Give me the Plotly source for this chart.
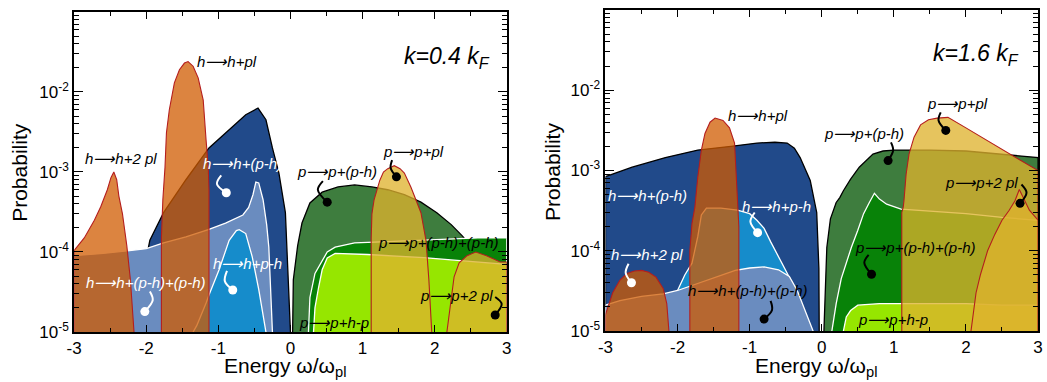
import math
import plotly.graph_objects as go

# ---------------- k = 0.4 kF (left panel) ----------------
# hole decay channels
a_hph_E = [-2.05, -1.95, -1.76, -1.45, -1.13, -0.8, -0.62, -0.45, -0.34, -0.25, -0.16, -0.07, -0.03, 0.0]
a_hph_P = [5e-5, 1.4e-4, 3.1e-4, 8e-4, 2.0e-3, 3.7e-3, 5.2e-3, 6.3e-3, 4.5e-3, 2.0e-3, 9.7e-4, 3.1e-4, 4.5e-5, 1e-5]

a_hphph_E = [-3.0, -2.6, -2.2, -2.0, -1.76, -1.45, -1.14, -0.9, -0.66, -0.58, -0.52, -0.48, -0.44, -0.38, -0.33, -0.3, -0.25]
a_hphph_P = [9e-5, 9.6e-5, 1.05e-4, 1.1e-4, 1.3e-4, 1.55e-4, 1.9e-4, 2.3e-4, 2.9e-4, 3.6e-4, 5.2e-4, 7.5e-4, 7.3e-4, 4.5e-4, 2.2e-4, 1.15e-4, 1e-5]

a_hpmh_E = [-1.35, -1.3, -1.17, -1.13, -0.99, -0.85, -0.75, -0.71, -0.62, -0.53, -0.44, -0.34]
a_hpmh_P = [1e-5, 1.2e-5, 2.3e-5, 2.9e-5, 6e-5, 1.4e-4, 1.85e-4, 1.9e-4, 1.7e-4, 8.7e-5, 3.4e-5, 1e-5]

a_h2pl_E = [-3.0, -2.86, -2.72, -2.63, -2.54, -2.49, -2.45, -2.41, -2.38, -2.33, -2.27, -2.22, -2.17]
a_h2pl_P = [1.05e-4, 1.5e-4, 2.5e-4, 3.7e-4, 6e-4, 8.5e-4, 1e-3, 8e-4, 5e-4, 3e-4, 1.2e-4, 4.5e-5, 1e-5]

a_hpl_E = [-1.79, -1.77, -1.74, -1.72, -1.68, -1.61, -1.54, -1.47, -1.42, -1.35, -1.28, -1.21, -1.17, -1.14, -1.13]
a_hpl_P = [1.5e-4, 4.5e-4, 1.15e-3, 3.1e-3, 6e-3, 1.3e-2, 1.9e-2, 2.3e-2, 2.4e-2, 2.1e-2, 1.5e-2, 7.9e-3, 2.5e-3, 1.15e-3, 6e-4]

# particle decay channels
a_pph_E = [0.03, 0.04, 0.1, 0.16, 0.27, 0.44, 0.66, 0.89, 1.13, 1.35, 1.58, 1.81, 2.03, 2.23, 2.38, 2.5, 2.6]
a_pph_P = [1e-5, 4.5e-5, 1.2e-4, 2.3e-4, 4.1e-4, 5.6e-4, 6.5e-4, 6.9e-4, 6.5e-4, 6e-4, 5.2e-4, 4.2e-4, 3.1e-4, 2.2e-4, 1.6e-4, 1.2e-4, 8e-5]

a_pphph_E = [0.25, 0.27, 0.34, 0.44, 0.51, 0.62, 0.89, 1.35, 1.81, 2.27, 2.6, 3.0]
a_pphph_P = [1e-5, 2.7e-5, 5.4e-5, 7.9e-5, 1e-4, 1.15e-4, 1.3e-4, 1.35e-4, 1.4e-4, 1.45e-4, 1.5e-4, 1.5e-4]

a_phmp_E = [0.32, 0.34, 0.39, 0.44, 0.51, 0.62, 1.07, 1.85, 2.27, 2.6, 3.0]
a_phmp_P = [1e-5, 2e-5, 3.6e-5, 6e-5, 8.4e-5, 9.6e-5, 9.3e-5, 8.5e-5, 7.9e-5, 7.5e-5, 7e-5]

a_ppl_E = [1.12, 1.13, 1.16, 1.2, 1.24, 1.29, 1.35, 1.44, 1.52, 1.58, 1.67, 1.74, 1.81, 1.88, 1.92, 1.96]
a_ppl_P = [1.5e-4, 3e-4, 4.5e-4, 6e-4, 7.9e-4, 1e-3, 1.1e-3, 1.2e-3, 1.1e-3, 9.7e-4, 6.5e-4, 4.5e-4, 3.1e-4, 1.4e-4, 4.5e-5, 1e-5]

a_p2pl_E = [2.17, 2.22, 2.27, 2.34, 2.45, 2.57, 2.72, 2.91, 3.0]
a_p2pl_P = [1e-5, 2.3e-5, 4.9e-5, 7.3e-5, 9e-5, 1e-4, 9e-5, 7.5e-5, 7.5e-5]

# ---------------- k = 1.6 kF (right panel) ----------------
b_hph_E = [-3.0, -2.63, -2.17, -1.72, -1.26, -0.9, -0.65, -0.48, -0.38, -0.3, -0.16, -0.07, -0.04, -0.03]
b_hph_P = [8.4e-4, 1.1e-3, 1.45e-3, 1.8e-3, 2.0e-3, 2.2e-3, 2.25e-3, 2.2e-3, 1.9e-3, 1.45e-3, 7.5e-4, 3e-4, 6e-5, 1e-5]

b_hpmh_E = [-2.1, -2.0, -1.9, -1.8, -1.72, -1.67, -1.6, -1.4, -1.17, -1.0, -0.9, -0.8, -0.71, -0.6, -0.52, -0.44, -0.35]
b_hpmh_P = [1.5e-5, 3.2e-5, 5e-5, 7e-5, 1.5e-4, 2.8e-4, 3.4e-4, 3.4e-4, 3.2e-4, 2.9e-4, 2.4e-4, 1.9e-4, 1.3e-4, 8.5e-5, 6.2e-5, 4.5e-5, 2e-5]

b_hphph_E = [-3.0, -2.8, -2.5, -2.2, -2.0, -1.8, -1.6, -1.4, -1.2, -1.0, -0.8, -0.6, -0.45, -0.34, -0.25, -0.16, -0.12]
b_hphph_P = [2.1e-5, 2.4e-5, 2.7e-5, 2.9e-5, 3.2e-5, 3.7e-5, 4.3e-5, 5e-5, 5.7e-5, 6.1e-5, 6.3e-5, 5.8e-5, 4.8e-5, 3.2e-5, 2e-5, 1.2e-5, 1e-5]

b_h2pl_E = [-3.0, -2.9, -2.8, -2.7, -2.6, -2.5, -2.4, -2.3, -2.2, -2.15, -2.12]
b_h2pl_P = [1.6e-5, 3e-5, 4.3e-5, 5.2e-5, 5.6e-5, 5.7e-5, 5.4e-5, 4.7e-5, 3.4e-5, 2.2e-5, 1e-5]

b_hpl_E = [-1.83, -1.8, -1.76, -1.72, -1.67, -1.62, -1.55, -1.48, -1.37, -1.28, -1.21, -1.19, -1.17, -1.15]
b_hpl_P = [1e-4, 2.2e-4, 3.5e-4, 8.2e-4, 1.8e-3, 2.9e-3, 4e-3, 4.5e-3, 4.2e-3, 3.4e-3, 2.2e-3, 1.1e-3, 4.2e-4, 2e-4]

b_pph_E = [0.03, 0.05, 0.07, 0.12, 0.2, 0.25, 0.3, 0.4, 0.52, 0.71, 0.85, 1.0, 1.5, 2.0, 2.5, 3.0]
b_pph_P = [1e-5, 4e-5, 1.1e-4, 2.5e-4, 4e-4, 4.6e-4, 5.6e-4, 7.8e-4, 1.1e-3, 1.6e-3, 1.75e-3, 1.8e-3, 1.8e-3, 1.75e-3, 1.6e-3, 1.45e-3]

b_pphph_E = [0.14, 0.2, 0.27, 0.34, 0.41, 0.5, 0.58, 0.66, 0.73, 0.8, 0.9, 1.1, 1.5, 2.0, 2.5, 3.0]
b_pphph_P = [1e-5, 2.2e-5, 4.5e-5, 7e-5, 1.1e-4, 1.8e-4, 2.9e-4, 4e-4, 5.2e-4, 4.4e-4, 3.8e-4, 3.3e-4, 3.1e-4, 2.9e-4, 2.6e-4, 2.4e-4]

b_phmp_E = [0.3, 0.34, 0.4, 0.5, 0.8, 1.1, 1.5, 2.0, 2.5, 3.0]
b_phmp_P = [1e-5, 1.5e-5, 1.8e-5, 2.1e-5, 2.2e-5, 2.2e-5, 2.2e-5, 2.2e-5, 2.1e-5, 2.1e-5]

b_ppl_E = [1.11, 1.13, 1.14, 1.17, 1.21, 1.28, 1.37, 1.48, 1.6, 1.75, 2.0, 2.25, 2.5, 2.75, 3.0]
b_ppl_P = [3e-4, 3.5e-4, 4.2e-4, 9e-4, 1.6e-3, 2.6e-3, 3.7e-3, 4.3e-3, 4.5e-3, 4.6e-3, 3.4e-3, 2.5e-3, 1.8e-3, 1.35e-3, 1.0e-3]

b_p2pl_E = [2.07, 2.1, 2.14, 2.2, 2.3, 2.4, 2.5, 2.6, 2.68, 2.74, 2.8, 2.88, 3.0]
b_p2pl_P = [1e-5, 1.6e-5, 3e-5, 5e-5, 1e-4, 1.6e-4, 2.4e-4, 3.2e-4, 4.2e-4, 5.8e-4, 4.4e-4, 3.2e-4, 2.4e-4]

# axis ticks
x_ticks = [-3, -2, -1, 0, 1, 2, 3]
x_ticklabels = ["-3", "-2", "-1", "0", "1", "2", "3"]
y_ticks = [1e-5, 1e-4, 1e-3, 1e-2, 1e-1]
y_ticklabels = ["10<sup>-5</sup>", "10<sup>-4</sup>", "10<sup>-3</sup>", "10<sup>-2</sup>", "10<sup>-1</sup>"]

# ---------------- styling ----------------
FLOOR = 1e-6          # areas are closed below the visible range
DARK_BLUE = "#214a8a"
STEEL = "#6a8cbf"
MID_BLUE = "#168ccb"
DARK_GREEN = "#3e7d3e"
GREEN = "#088208"
LIME = "#96e600"
ORANGE = "rgba(208,91,0,0.75)"
YELLOW = "rgba(222,178,46,0.77)"
RED = "#b41e1e"
FONT = "Liberation Sans, Arial, sans-serif"
ARROW = "⟶"

fig = go.Figure()


def area(E, P, fill, line, width, ax):
    xs = list(E) + [E[-1], E[0], E[0]]
    ys = list(P) + [FLOOR, FLOOR, P[0]]
    fig.add_trace(go.Scatter(
        x=xs, y=ys, mode="lines", fill="toself", fillcolor=fill,
        line=dict(color=line, width=width), xaxis="x" + ax, yaxis="y" + ax,
        hoverinfo="skip", showlegend=False))


# left panel, back to front
area(a_hph_E, a_hph_P, DARK_BLUE, "black", 1.3, "")
area(a_hphph_E, a_hphph_P, STEEL, "white", 1.3, "")
area(a_hpmh_E, a_hpmh_P, MID_BLUE, "white", 1.3, "")
area(a_pph_E, a_pph_P, DARK_GREEN, "black", 1.3, "")
area(a_pphph_E, a_pphph_P, GREEN, "white", 1.3, "")
area(a_phmp_E, a_phmp_P, LIME, "white", 1.3, "")
area(a_h2pl_E, a_h2pl_P, ORANGE, RED, 1.1, "")
area(a_hpl_E, a_hpl_P, ORANGE, RED, 1.1, "")
area(a_ppl_E, a_ppl_P, YELLOW, RED, 1.1, "")
area(a_p2pl_E, a_p2pl_P, YELLOW, RED, 1.1, "")

# right panel, back to front
area(b_hph_E, b_hph_P, DARK_BLUE, "black", 1.3, "2")
area(b_hpmh_E, b_hpmh_P, MID_BLUE, "white", 1.3, "2")
area(b_hphph_E, b_hphph_P, STEEL, "white", 1.3, "2")
area(b_pph_E, b_pph_P, DARK_GREEN, "black", 1.3, "2")
area(b_pphph_E, b_pphph_P, GREEN, "white", 1.3, "2")
area(b_phmp_E, b_phmp_P, LIME, "white", 1.3, "2")
area(b_h2pl_E, b_h2pl_P, ORANGE, RED, 1.1, "2")
area(b_hpl_E, b_hpl_P, ORANGE, RED, 1.1, "2")
area(b_ppl_E, b_ppl_P, YELLOW, RED, 1.1, "2")
area(b_p2pl_E, b_p2pl_P, YELLOW, RED, 1.1, "2")

# channel labels: (axis, text, energy, probability, colour)
labels = [
    ("", "h→h+pl", -0.88, 2.4e-2, "black"),
    ("", "h→h+2 pl", -2.35, 1.48e-3, "black"),
    ("", "h→h+(p-h)", -0.66, 1.29e-3, "white"),
    ("", "h→h+p-h", -0.6, 7.2e-5, "white"),
    ("", "h→h+(p-h)+(p-h)", -2.0, 4.1e-5, "white"),
    ("", "p→p+(p-h)", 0.65, 1.0e-3, "black"),
    ("", "p→p+pl", 1.70, 1.78e-3, "black"),
    ("", "p→p+(p-h)+(p-h)", 2.05, 1.33e-4, "black"),
    ("", "p→p+2 pl", 2.3, 2.9e-5, "black"),
    ("", "p→p+h-p", 0.6, 1.33e-5, "black"),
    ("2", "h→h+pl", -0.88, 4.9e-3, "black"),
    ("2", "h→h+(p-h)", -2.42, 4.9e-4, "white"),
    ("2", "h→h+p-h", -0.63, 3.6e-4, "white"),
    ("2", "h→h+2 pl", -2.42, 9.1e-5, "white"),
    ("2", "h→h+(p-h)+(p-h)", -1.03, 3.16e-5, "black"),
    ("2", "p→p+(p-h)", 0.58, 2.9e-3, "black"),
    ("2", "p→p+pl", 1.88, 6.9e-3, "black"),
    ("2", "p→p+2 pl", 2.21, 7.1e-4, "black"),
    ("2", "p→p+(p-h)+(p-h)", 1.3, 1.1e-4, "black"),
    ("2", "p→p+h-p", 0.99, 1.41e-5, "black"),
]

# curled pointers ending in a dot: (axis, colour, energies, probabilities)
pointers = [
    ("", "white", [-0.96, -1.02, -0.89], [9.1e-4, 7.1e-4, 5.5e-4]),
    ("", "white", [-0.88, -0.91, -0.80], [5.8e-5, 4.3e-5, 3.35e-5]),
    ("", "white", [-1.95, -1.91, -2.02], [3.2e-5, 2.5e-5, 1.8e-5]),
    ("", "black", [0.45, 0.38, 0.51], [7.7e-4, 6.0e-4, 4.2e-4]),
    ("", "black", [1.41, 1.39, 1.47], [1.41e-3, 1.12e-3, 8.7e-4]),
    ("", "black", [2.84, 2.93, 2.84], [2.74e-5, 2.24e-5, 1.63e-5]),
    ("2", "white", [-0.93, -0.99, -0.89], [3.0e-4, 2.3e-4, 1.68e-4]),
    ("2", "white", [-2.68, -2.72, -2.64], [6.9e-5, 5.3e-5, 4.0e-5]),
    ("2", "black", [-0.71, -0.69, -0.80], [2.37e-5, 1.83e-5, 1.41e-5]),
    ("2", "black", [0.96, 0.99, 0.92], [2.24e-3, 1.78e-3, 1.33e-3]),
    ("2", "black", [1.65, 1.62, 1.72], [5.3e-3, 4.2e-3, 3.16e-3]),
    ("2", "black", [2.77, 2.84, 2.75], [6.7e-4, 5.3e-4, 3.9e-4]),
    ("2", "black", [0.65, 0.59, 0.69], [8.9e-5, 7.1e-5, 5.1e-5]),
]

for ax, col, E, P in pointers:
    fig.add_trace(go.Scatter(
        x=E, y=P, mode="lines", line=dict(color=col, width=2, shape="spline"),
        xaxis="x" + ax, yaxis="y" + ax, hoverinfo="skip", showlegend=False))
    fig.add_trace(go.Scatter(
        x=[E[-1]], y=[P[-1]], mode="markers", marker=dict(color=col, size=9),
        xaxis="x" + ax, yaxis="y" + ax, hoverinfo="skip", showlegend=False))

annotations = []
for ax, text, E, P, col in labels:
    annotations.append(dict(
        x=E, y=math.log10(P), xref="x" + ax, yref="y" + ax,
        text="<i>" + text.replace("→", ARROW) + "</i>",
        xanchor="center", yanchor="middle",
        showarrow=False, font=dict(family=FONT, size=15, color=col)))

annotations += [
    dict(x=2.17, y=-1.575, xref="x", yref="y", text="<i>k=0.4 k<sub>F</sub></i>",
         xanchor="center", yanchor="middle",
         showarrow=False, font=dict(family=FONT, size=23, color="black")),
    dict(x=2.14, y=-1.56, xref="x2", yref="y2", text="<i>k=1.6 k<sub>F</sub></i>",
         xanchor="center", yanchor="middle",
         showarrow=False, font=dict(family=FONT, size=23, color="black")),
]
for xc in (12, 552):
    annotations.append(dict(
        x=xc / 1047, y=0.497, xref="paper", yref="paper", text="Probability", textangle=-90,
        xanchor="center", yanchor="middle",
        showarrow=False, font=dict(family=FONT, size=21, color="black")))
for xc in (280, 818):
    annotations.append(dict(
        x=xc / 1047, y=-0.108, xref="paper", yref="paper", text="Energy ω/ω<sub>pl</sub>",
        xanchor="center", yanchor="middle",
        showarrow=False, font=dict(family=FONT, size=21, color="black")))

xaxis_style = dict(
    range=[-3, 3], tickmode="array", tickvals=x_ticks, ticktext=x_ticklabels,
    ticks="inside", ticklen=7, tickwidth=1, tickcolor="black",
    minor=dict(dtick=0.5, tick0=0, ticks="inside", ticklen=4, tickcolor="black"),
    showline=True, linecolor="black", linewidth=2, mirror="allticks",
    showgrid=False, zeroline=False, tickfont=dict(family=FONT, size=17, color="black"))

yaxis_style = dict(
    type="log", range=[-5, -1], tickmode="array", tickvals=y_ticks, ticktext=y_ticklabels,
    ticks="inside", ticklen=9, tickwidth=1, tickcolor="black",
    minor=dict(dtick="D1", ticks="inside", ticklen=5, tickcolor="black"),
    showline=True, linecolor="black", linewidth=2, mirror="allticks",
    showgrid=False, zeroline=False, tickfont=dict(family=FONT, size=17, color="black"))

fig.update_layout(
    width=1047, height=382, margin=dict(l=0, r=0, t=10, b=50),
    paper_bgcolor="white", plot_bgcolor="white", showlegend=False,
    xaxis=dict(xaxis_style, domain=[67 / 1047, 505 / 1047], anchor="y"),
    yaxis=dict(yaxis_style, domain=[0, 0.9938], anchor="x"),
    xaxis2=dict(xaxis_style, domain=[605 / 1047, 1043 / 1047], anchor="y2"),
    yaxis2=dict(yaxis_style, domain=[0.003, 1.0], anchor="x2"),
    annotations=annotations,
    font=dict(family=FONT, color="black"),
)

fig.write_html("out.html")
